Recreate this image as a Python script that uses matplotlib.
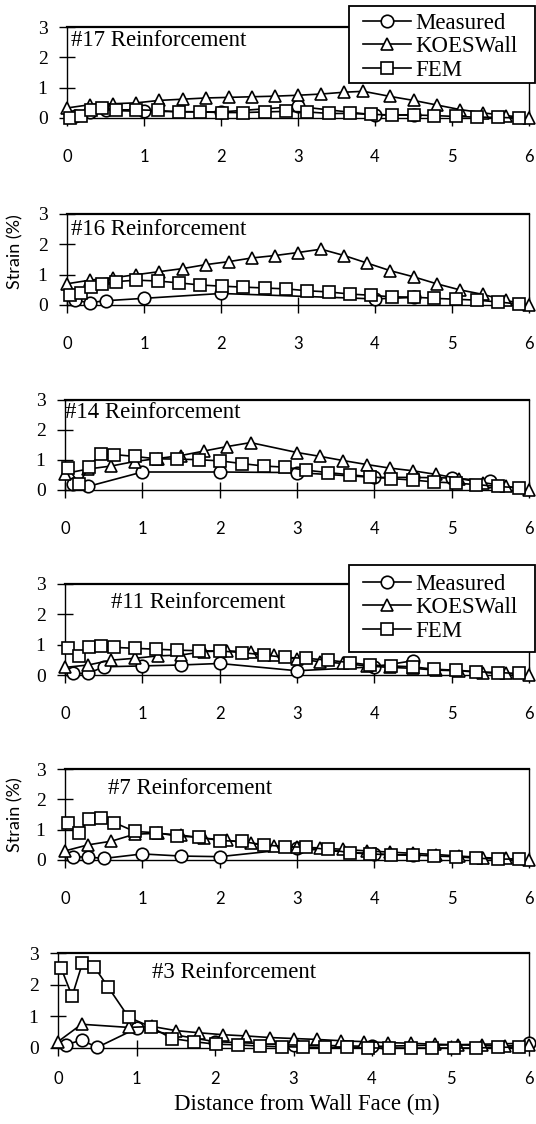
import matplotlib
matplotlib.use('Agg')
import matplotlib.pyplot as plt
from matplotlib.patches import Rectangle

# ---------------- data ----------------
x_ticks = [0, 1, 2, 3, 4, 5, 6]
y_ticks = [0, 1, 2, 3]
panel_titles = ['#17 Reinforcement', '#16 Reinforcement', '#14 Reinforcement',
                '#11 Reinforcement', '#7 Reinforcement', '#3 Reinforcement']
series_names = ['Measured', 'KOESWall', 'FEM']

fem_x = [0.04, 0.18, 0.31, 0.46, 0.64, 0.9, 1.18, 1.45, 1.73, 2.01, 2.29, 2.57,
         2.85, 3.12, 3.4, 3.68, 3.95, 4.22, 4.5, 4.77, 5.05, 5.32, 5.6, 5.87]
koes_x_full = [0, 0.3, 0.6, 0.9, 1.2, 1.5, 1.8, 2.1, 2.4, 2.7, 3.0, 3.3, 3.6,
               3.9, 4.2, 4.5, 4.8, 5.1, 5.4, 5.7, 6.0]

# #17
meas17_x = [0.1, 0.3, 0.5, 1.0, 2.0, 3.0, 4.0, 4.5]
meas17_y = [0.05, 0.2, 0.25, 0.22, 0.2, 0.38, 0.1, 0.1]
koes17_x = [0, 0.3, 0.6, 0.9, 1.2, 1.5, 1.8, 2.1, 2.4, 2.7, 3.0, 3.3, 3.6, 3.85,
            4.2, 4.5, 4.8, 5.1, 5.4, 5.7, 6.0]
koes17_y = [0.33, 0.44, 0.47, 0.5, 0.58, 0.62, 0.66, 0.68, 0.7, 0.72, 0.75, 0.79,
            0.85, 0.88, 0.71, 0.58, 0.43, 0.28, 0.17, 0.08, 0.0]
fem17_y = [0.0, 0.08, 0.25, 0.33, 0.27, 0.27, 0.25, 0.2, 0.2, 0.18, 0.18, 0.2,
           0.22, 0.2, 0.15, 0.15, 0.12, 0.1, 0.1, 0.08, 0.05, 0.03, 0.02, 0.0]

# #16
meas16_x = [0.1, 0.3, 0.5, 1.0, 2.0, 4.0, 4.5]
meas16_y = [0.15, 0.08, 0.14, 0.22, 0.38, 0.2, 0.25]
koes16_x = koes_x_full
koes16_y = [0.7, 0.82, 0.9, 1.0, 1.1, 1.2, 1.33, 1.43, 1.55, 1.63, 1.73, 1.84,
            1.63, 1.38, 1.13, 0.93, 0.7, 0.5, 0.35, 0.15, 0.0]
fem16_y = [0.33, 0.38, 0.58, 0.7, 0.77, 0.82, 0.79, 0.73, 0.66, 0.62, 0.59, 0.56,
           0.53, 0.47, 0.43, 0.36, 0.32, 0.27, 0.26, 0.22, 0.19, 0.16, 0.1, 0.03]

# #14
meas14_x = [0.1, 0.3, 1.0, 2.0, 3.0, 4.0, 4.5, 5.0, 5.5]
meas14_y = [0.2, 0.12, 0.6, 0.6, 0.58, 0.42, 0.42, 0.4, 0.3]
koes14_x = [0, 0.3, 0.6, 0.9, 1.2, 1.5, 1.8, 2.1, 2.4, 3.0, 3.3, 3.6, 3.9, 4.2,
            4.5, 4.8, 5.1, 5.4, 5.7, 6.0]
koes14_y = [0.55, 0.7, 0.8, 0.95, 1.05, 1.15, 1.3, 1.45, 1.58, 1.25, 1.12, 0.98,
            0.85, 0.73, 0.64, 0.52, 0.38, 0.25, 0.13, 0.0]
fem14_y = [0.75, 0.2, 0.78, 1.2, 1.18, 1.12, 1.04, 1.03, 1.01, 0.97, 0.88, 0.8,
           0.76, 0.66, 0.58, 0.51, 0.44, 0.38, 0.33, 0.27, 0.23, 0.18, 0.12, 0.07]

# #11
meas11_x = [0.1, 0.3, 0.5, 1.0, 1.5, 2.0, 3.0, 4.0, 4.5]
meas11_y = [0.05, 0.05, 0.27, 0.3, 0.33, 0.38, 0.14, 0.27, 0.47]
koes11_x = koes_x_full
koes11_y = [0.25, 0.33, 0.49, 0.55, 0.63, 0.66, 0.77, 0.8, 0.75, 0.65, 0.52, 0.44,
            0.38, 0.3, 0.25, 0.22, 0.16, 0.14, 0.08, 0.05, 0.0]
fem11_y = [0.88, 0.63, 0.91, 0.96, 0.91, 0.88, 0.85, 0.82, 0.8, 0.79, 0.74, 0.66,
           0.58, 0.55, 0.49, 0.41, 0.33, 0.3, 0.27, 0.19, 0.16, 0.11, 0.08, 0.05]

# #7
meas7_x = [0.1, 0.3, 0.5, 1.0, 1.5, 2.0, 3.0, 4.0, 4.5]
meas7_y = [0.1, 0.1, 0.05, 0.2, 0.13, 0.11, 0.38, 0.2, 0.15]
koes7_x = koes_x_full
koes7_y = [0.3, 0.5, 0.62, 0.85, 0.88, 0.82, 0.72, 0.65, 0.55, 0.45, 0.42, 0.4,
           0.35, 0.3, 0.26, 0.22, 0.18, 0.13, 0.08, 0.05, 0.0]
fem7_y = [1.21, 0.9, 1.35, 1.38, 1.23, 0.94, 0.9, 0.79, 0.75, 0.64, 0.61, 0.5,
          0.44, 0.42, 0.35, 0.24, 0.2, 0.17, 0.17, 0.13, 0.11, 0.06, 0.03, 0.03]

# #3
meas3_x = [0.1, 0.3, 0.5, 1.0, 2.0, 3.0, 4.0, 6.0]
meas3_y = [0.1, 0.25, 0.02, 0.62, 0.2, 0.1, 0.05, 0.15]
koes3_x = [0, 0.3, 0.9, 1.2, 1.5, 1.8, 2.1, 2.4, 2.7, 3.0, 3.3, 3.6, 3.9, 4.2,
           4.5, 4.8, 5.1, 5.4, 5.7, 6.0]
koes3_y = [0.2, 0.75, 0.65, 0.68, 0.55, 0.48, 0.42, 0.38, 0.33, 0.3, 0.27, 0.23,
           0.2, 0.17, 0.15, 0.12, 0.1, 0.08, 0.06, 0.1]
fem3_y = [2.52, 1.64, 2.67, 2.57, 1.92, 0.97, 0.67, 0.3, 0.2, 0.12, 0.1, 0.06,
          0.04, 0.03, 0.02, 0.02, 0.0, 0.0, 0.0, 0.0, 0.0, 0.0, 0.02, 0.03]

panels = [
    (meas17_x, meas17_y, koes17_x, koes17_y, fem17_y),
    (meas16_x, meas16_y, koes16_x, koes16_y, fem16_y),
    (meas14_x, meas14_y, koes14_x, koes14_y, fem14_y),
    (meas11_x, meas11_y, koes11_x, koes11_y, fem11_y),
    (meas7_x, meas7_y, koes7_x, koes7_y, fem7_y),
    (meas3_x, meas3_y, koes3_x, koes3_y, fem3_y),
]

# ---------------- layout (pixels) ----------------
W, H = 536, 1124
boxes = [(67, 27, 529, 118), (67, 214, 529, 305), (65, 400, 529, 490),
         (65, 584, 529, 675), (65, 769, 529, 860), (58, 953, 529, 1048)]
xpads = [16.5, 16.5, 16.5, 16.5, 16.5, 10.5]
title_pos = [(0.05, 2.54), (0.05, 2.49), (0.0, 2.58), (0.6, 2.39), (0.55, 2.36), (1.2, 2.38)]

serif = ['Liberation Serif', 'DejaVu Serif']
sans = ['Lato', 'DejaVu Sans']

fig = plt.figure(figsize=(W / 100, H / 100), dpi=100)

mk = dict(color='black', lw=1.2, markersize=9, markerfacecolor='white',
          markeredgecolor='black', markeredgewidth=1.2, clip_on=False)

axes = []
for i, (l, t, r, b) in enumerate(boxes):
    ax = fig.add_axes([l / W, 1 - b / H, (r - l) / W, (b - t) / H])
    mx, my, kx, ky, fy = panels[i]
    ax.plot(mx, my, marker='o', label=series_names[0], zorder=3, **mk)
    ax.plot(kx, ky, marker='^', label=series_names[1], zorder=4, **mk)
    ax.plot(fem_x, fy, marker='s', label=series_names[2], zorder=5, **mk)
    ax.set_xlim(0, 6)
    ax.set_ylim(0, 3)
    ax.set_xticks(x_ticks)
    ax.set_yticks(y_ticks)
    ax.set_xticklabels([str(v) for v in x_ticks], family=sans, fontsize=12)
    ax.set_yticklabels([str(v) for v in y_ticks], family=serif, fontsize=14)
    ax.tick_params(axis='x', direction='inout', length=12, width=1.0, pad=xpads[i])
    ax.tick_params(axis='y', direction='inout', length=12, width=1.0, pad=8)
    for s in ['left', 'right', 'bottom']:
        ax.spines[s].set_linewidth(1.0)
    ax.spines['top'].set_linewidth(1.6)
    ax.text(title_pos[i][0], title_pos[i][1], panel_titles[i], family=serif,
            fontsize=16.5, ha='left', va='center')
    axes.append(ax)

# legends: frame drawn as a rectangle spanning to the right edge
legend_boxes = [(349, 6, 535, 83), (349, 565, 535, 652)]
legend_offsets = [7, 9]
for ax, (lx, ly, rx, by), off in zip([axes[0], axes[3]], legend_boxes, legend_offsets):
    rect = Rectangle((lx / W, 1 - by / H), (rx - lx) / W, (by - ly) / H,
                     transform=fig.transFigure, facecolor='white',
                     edgecolor='black', linewidth=1.3, zorder=9)
    fig.add_artist(rect)
    leg = ax.legend(loc='upper left', bbox_to_anchor=((lx + 14) / W, 1 - (ly + off) / H),
                    bbox_transform=fig.transFigure, borderaxespad=0,
                    prop={'family': serif, 'size': 16.5}, frameon=False,
                    handlelength=2.1, handletextpad=0.2, labelspacing=0.1,
                    borderpad=0.0)
    leg.set_zorder(10)
    fig.add_artist(leg)

fig.text(15 / W, 1 - 252 / H, 'Strain (%)', rotation=90, family=sans,
         fontsize=13, ha='center', va='center')
fig.text(15 / W, 1 - 815 / H, 'Strain (%)', rotation=90, family=sans,
         fontsize=13, ha='center', va='center')
fig.text(307 / W, 1 - 1104 / H, 'Distance from Wall Face (m)', family=serif,
         fontsize=16.5, ha='center', va='center')

fig.savefig('out.png', dpi=100)
